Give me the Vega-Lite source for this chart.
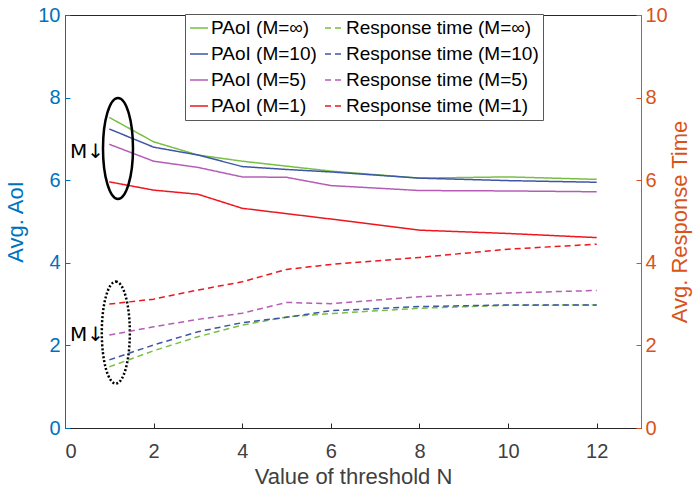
{
  "$schema": "https://vega.github.io/schema/vega-lite/v6.json",
  "width": 576,
  "height": 413,
  "autosize": {"type": "none"},
  "padding": {"left": 65, "top": 15, "right": 55, "bottom": 63},
  "config": {
    "font": "Liberation Sans",
    "view": {"stroke": "#262626", "strokeWidth": 1},
    "axis": {"grid": false, "labelFont": "Liberation Sans", "titleFont": "Liberation Sans", "titleFontWeight": "normal", "labelFontSize": 20, "titleFontSize": 22, "tickSize": -5, "tickWidth": 1, "domainWidth": 1},
    "legend": {
      "orient": "none", "legendX": 120, "legendY": -1, "columns": 2, "direction": "vertical",
      "symbolType": "stroke", "symbolSize": 324, "symbolStrokeWidth": 1.5,
      "labelFont": "Liberation Sans", "labelFontSize": 19, "labelColor": "#000000", "labelLimit": 400, "labelOffset": 2,
      "strokeColor": "#595959", "fillColor": "#ffffff", "padding": 4, "rowPadding": 6, "columnPadding": 5
    }
  },
  "datasets": {
    "series": [
      {"N": 1, "value": 7.52, "kind": "PAoI", "series": "PAoI (M=∞)"},
      {"N": 2, "value": 6.93, "kind": "PAoI", "series": "PAoI (M=∞)"},
      {"N": 3, "value": 6.61, "kind": "PAoI", "series": "PAoI (M=∞)"},
      {"N": 4, "value": 6.46, "kind": "PAoI", "series": "PAoI (M=∞)"},
      {"N": 5, "value": 6.34, "kind": "PAoI", "series": "PAoI (M=∞)"},
      {"N": 6, "value": 6.22, "kind": "PAoI", "series": "PAoI (M=∞)"},
      {"N": 8, "value": 6.05, "kind": "PAoI", "series": "PAoI (M=∞)"},
      {"N": 10, "value": 6.08, "kind": "PAoI", "series": "PAoI (M=∞)"},
      {"N": 12, "value": 6.02, "kind": "PAoI", "series": "PAoI (M=∞)"},
      {"N": 1, "value": 7.24, "kind": "PAoI", "series": "PAoI (M=10)"},
      {"N": 2, "value": 6.80, "kind": "PAoI", "series": "PAoI (M=10)"},
      {"N": 3, "value": 6.61, "kind": "PAoI", "series": "PAoI (M=10)"},
      {"N": 4, "value": 6.33, "kind": "PAoI", "series": "PAoI (M=10)"},
      {"N": 5, "value": 6.26, "kind": "PAoI", "series": "PAoI (M=10)"},
      {"N": 6, "value": 6.20, "kind": "PAoI", "series": "PAoI (M=10)"},
      {"N": 8, "value": 6.05, "kind": "PAoI", "series": "PAoI (M=10)"},
      {"N": 10, "value": 5.99, "kind": "PAoI", "series": "PAoI (M=10)"},
      {"N": 12, "value": 5.95, "kind": "PAoI", "series": "PAoI (M=10)"},
      {"N": 1, "value": 6.87, "kind": "PAoI", "series": "PAoI (M=5)"},
      {"N": 2, "value": 6.46, "kind": "PAoI", "series": "PAoI (M=5)"},
      {"N": 3, "value": 6.31, "kind": "PAoI", "series": "PAoI (M=5)"},
      {"N": 4, "value": 6.08, "kind": "PAoI", "series": "PAoI (M=5)"},
      {"N": 5, "value": 6.07, "kind": "PAoI", "series": "PAoI (M=5)"},
      {"N": 6, "value": 5.87, "kind": "PAoI", "series": "PAoI (M=5)"},
      {"N": 8, "value": 5.75, "kind": "PAoI", "series": "PAoI (M=5)"},
      {"N": 10, "value": 5.74, "kind": "PAoI", "series": "PAoI (M=5)"},
      {"N": 12, "value": 5.72, "kind": "PAoI", "series": "PAoI (M=5)"},
      {"N": 1, "value": 5.96, "kind": "PAoI", "series": "PAoI (M=1)"},
      {"N": 2, "value": 5.76, "kind": "PAoI", "series": "PAoI (M=1)"},
      {"N": 3, "value": 5.66, "kind": "PAoI", "series": "PAoI (M=1)"},
      {"N": 4, "value": 5.32, "kind": "PAoI", "series": "PAoI (M=1)"},
      {"N": 5, "value": 5.19, "kind": "PAoI", "series": "PAoI (M=1)"},
      {"N": 6, "value": 5.06, "kind": "PAoI", "series": "PAoI (M=1)"},
      {"N": 8, "value": 4.79, "kind": "PAoI", "series": "PAoI (M=1)"},
      {"N": 10, "value": 4.71, "kind": "PAoI", "series": "PAoI (M=1)"},
      {"N": 12, "value": 4.61, "kind": "PAoI", "series": "PAoI (M=1)"},
      {"N": 1, "value": 1.48, "kind": "RT", "series": "Response time (M=∞)"},
      {"N": 2, "value": 1.87, "kind": "RT", "series": "Response time (M=∞)"},
      {"N": 3, "value": 2.21, "kind": "RT", "series": "Response time (M=∞)"},
      {"N": 4, "value": 2.49, "kind": "RT", "series": "Response time (M=∞)"},
      {"N": 5, "value": 2.69, "kind": "RT", "series": "Response time (M=∞)"},
      {"N": 6, "value": 2.77, "kind": "RT", "series": "Response time (M=∞)"},
      {"N": 8, "value": 2.90, "kind": "RT", "series": "Response time (M=∞)"},
      {"N": 10, "value": 2.97, "kind": "RT", "series": "Response time (M=∞)"},
      {"N": 12, "value": 2.98, "kind": "RT", "series": "Response time (M=∞)"},
      {"N": 1, "value": 1.65, "kind": "RT", "series": "Response time (M=10)"},
      {"N": 2, "value": 2.01, "kind": "RT", "series": "Response time (M=10)"},
      {"N": 3, "value": 2.33, "kind": "RT", "series": "Response time (M=10)"},
      {"N": 4, "value": 2.55, "kind": "RT", "series": "Response time (M=10)"},
      {"N": 5, "value": 2.68, "kind": "RT", "series": "Response time (M=10)"},
      {"N": 6, "value": 2.84, "kind": "RT", "series": "Response time (M=10)"},
      {"N": 8, "value": 2.94, "kind": "RT", "series": "Response time (M=10)"},
      {"N": 10, "value": 2.98, "kind": "RT", "series": "Response time (M=10)"},
      {"N": 12, "value": 2.98, "kind": "RT", "series": "Response time (M=10)"},
      {"N": 1, "value": 2.25, "kind": "RT", "series": "Response time (M=5)"},
      {"N": 2, "value": 2.45, "kind": "RT", "series": "Response time (M=5)"},
      {"N": 3, "value": 2.63, "kind": "RT", "series": "Response time (M=5)"},
      {"N": 4, "value": 2.78, "kind": "RT", "series": "Response time (M=5)"},
      {"N": 5, "value": 3.04, "kind": "RT", "series": "Response time (M=5)"},
      {"N": 6, "value": 3.01, "kind": "RT", "series": "Response time (M=5)"},
      {"N": 8, "value": 3.18, "kind": "RT", "series": "Response time (M=5)"},
      {"N": 10, "value": 3.27, "kind": "RT", "series": "Response time (M=5)"},
      {"N": 12, "value": 3.33, "kind": "RT", "series": "Response time (M=5)"},
      {"N": 1, "value": 3.00, "kind": "RT", "series": "Response time (M=1)"},
      {"N": 2, "value": 3.12, "kind": "RT", "series": "Response time (M=1)"},
      {"N": 3, "value": 3.34, "kind": "RT", "series": "Response time (M=1)"},
      {"N": 4, "value": 3.54, "kind": "RT", "series": "Response time (M=1)"},
      {"N": 5, "value": 3.84, "kind": "RT", "series": "Response time (M=1)"},
      {"N": 6, "value": 3.96, "kind": "RT", "series": "Response time (M=1)"},
      {"N": 8, "value": 4.13, "kind": "RT", "series": "Response time (M=1)"},
      {"N": 10, "value": 4.33, "kind": "RT", "series": "Response time (M=1)"},
      {"N": 12, "value": 4.45, "kind": "RT", "series": "Response time (M=1)"}
    ],
    "ellipseSolid": [{"N": 1.196, "value": 6.77}],
    "ellipseDotted": [{"N": 1.147, "value": 2.31}],
    "notes": [
      {"N": 0.113, "value": 6.54, "label": "M↓"},
      {"N": 0.113, "value": 2.11, "label": "M↓"}
    ]
  },
  "layer": [
    {
      "layer": [
        {
          "data": {"name": "series"},
          "transform": [{"filter": "datum.kind === 'PAoI'"}],
          "mark": {"type": "line", "strokeWidth": 1.5},
          "encoding": {
            "x": {"field": "N", "type": "quantitative", "scale": {"domain": [0, 13], "nice": false},
                  "axis": {"values": [0, 2, 4, 6, 8, 10, 12], "title": "Value of threshold N", "titleFontSize": 22, "labelColor": "#404040", "titleColor": "#404040", "domainColor": "#262626", "tickColor": "#262626", "labelPadding": 18, "titlePadding": 5}},
            "y": {"field": "value", "type": "quantitative", "scale": {"domain": [0, 10], "nice": false},
                  "axis": {"orient": "left", "values": [0, 2, 4, 6, 8, 10], "title": "Avg. AoI", "labelColor": "#0072BD", "titleColor": "#0072BD", "domainColor": "#0072BD", "tickColor": "#0072BD", "labelPadding": 10, "titlePadding": 10}},
            "color": {"field": "series", "type": "nominal", "title": null,
                      "scale": {"domain": ["PAoI (M=∞)", "PAoI (M=10)", "PAoI (M=5)", "PAoI (M=1)", "Response time (M=∞)", "Response time (M=10)", "Response time (M=5)", "Response time (M=1)"],
                                "range": ["#77C043", "#3E56A6", "#B55DB5", "#F0161F", "#77C043", "#3E56A6", "#B55DB5", "#F0161F"]}},
            "strokeDash": {"field": "series", "type": "nominal", "title": null,
                      "scale": {"domain": ["PAoI (M=∞)", "PAoI (M=10)", "PAoI (M=5)", "PAoI (M=1)", "Response time (M=∞)", "Response time (M=10)", "Response time (M=5)", "Response time (M=1)"],
                                "range": [[1, 0], [1, 0], [1, 0], [1, 0], [6, 4], [6, 4], [6, 4], [6, 4]]}}
          }
        },
        {
          "data": {"name": "ellipseSolid"},
          "mark": {"type": "point", "shape": "M0,-1C0.164,-1,0.297,-0.552,0.297,0C0.297,0.552,0.164,1,0,1C-0.164,1,-0.297,0.552,-0.297,0C-0.297,-0.552,-0.164,-1,0,-1Z", "size": 10201, "filled": false, "stroke": "#000000", "strokeWidth": 2.5, "opacity": 1},
          "encoding": {
            "x": {"field": "N", "type": "quantitative"},
            "y": {"field": "value", "type": "quantitative"}
          }
        },
        {
          "data": {"name": "ellipseDotted"},
          "mark": {"type": "point", "shape": "M0,-1C0.152,-1,0.275,-0.552,0.275,0C0.275,0.552,0.152,1,0,1C-0.152,1,-0.275,0.552,-0.275,0C-0.275,-0.552,-0.152,-1,0,-1Z", "size": 10404, "filled": false, "stroke": "#000000", "strokeWidth": 2.5, "strokeDash": [2, 2], "opacity": 1},
          "encoding": {
            "x": {"field": "N", "type": "quantitative"},
            "y": {"field": "value", "type": "quantitative"}
          }
        },
        {
          "data": {"name": "notes"},
          "mark": {"type": "text", "align": "left", "baseline": "alphabetic", "fontSize": 20, "font": "DejaVu Sans", "color": "#000000"},
          "encoding": {
            "x": {"field": "N", "type": "quantitative"},
            "y": {"field": "value", "type": "quantitative"},
            "text": {"field": "label"}
          }
        }
      ]
    },
    {
      "data": {"name": "series"},
      "transform": [{"filter": "datum.kind === 'RT'"}],
      "mark": {"type": "line", "strokeWidth": 1.5},
      "encoding": {
        "x": {"field": "N", "type": "quantitative"},
        "y": {"field": "value", "type": "quantitative", "scale": {"domain": [0, 10], "nice": false},
              "axis": {"orient": "right", "values": [0, 2, 4, 6, 8, 10], "title": "Avg. Response Time", "titleAngle": 270, "labelColor": "#D95319", "titleColor": "#D95319", "domainColor": "#D95319", "tickColor": "#D95319", "labelPadding": 9, "titlePadding": 24}},
        "color": {"field": "series", "type": "nominal", "title": null},
        "strokeDash": {"field": "series", "type": "nominal", "title": null}
      }
    }
  ],
  "resolve": {"scale": {"y": "independent"}}
}
